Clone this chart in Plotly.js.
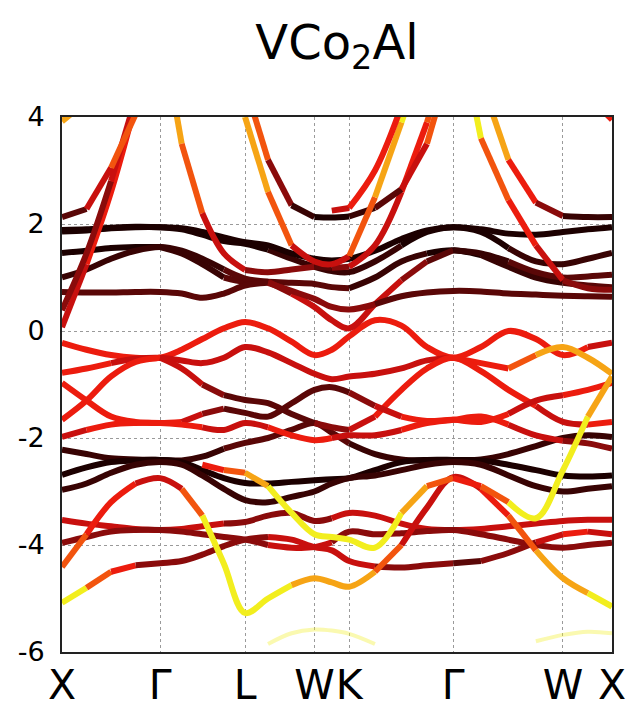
<!DOCTYPE html>
<html>
<head>
<meta charset="utf-8">
<script src="https://cdn.plot.ly/plotly-3.0.1.min.js"></script>
<style>html,body{margin:0;padding:0;background:#fff;}#chart{width:635px;height:711px;}</style>
</head>
<body>
<div id="chart"></div>
<script>
const n = null;
// k-path samples (cumulative distance, 2π/a units)
const kPath = [0, 0.25, 0.5, 0.75, 1.0, 1.22, 1.43, 1.65, 1.866, 2.1, 2.34, 2.573, 2.75, 2.927, 3.19, 3.46, 3.72, 3.988, 4.27, 4.55, 4.83, 5.106, 5.36, 5.606];
const tickK = [0, 1, 1.866, 2.573, 2.927, 3.988, 5.106, 5.606];
const tickLabels = ["X", "Γ", "L", "W", "K", "Γ", "W", "X"];
const yTicks = [-6, -4, -2, 0, 2, 4];

// conduction bands (energy, eV) and weights (0 = dark, 1 = yellow)
const c1E = [3.92, 4.35, 5.2, n, n, n, n, n, n, n, n, n, n, n, n, n, n, n, n, n, n, n, n, n];
const c1W = [0.85, 0.9, 0.95, n, n, n, n, n, n, n, n, n, n, n, n, n, n, n, n, n, n, n, n, n];
const c2E = [2.13, 2.28, 3.05, 4.05, 5.5, n, n, n, n, n, n, n, n, n, n, n, n, n, n, n, n, n, n, n];
const c2W = [0.1, 0.35, 0.65, 0.9, 1.0, n, n, n, n, n, n, n, n, n, n, n, n, n, n, n, n, n, n, n];
const c3E = [0.07, 1.25, 2.6, 4.25, 5.8, n, n, n, n, n, n, n, n, n, n, n, n, n, n, n, n, n, n, n];
const c3W = [0.55, 0.55, 0.6, 0.7, 0.8, n, n, n, n, n, n, n, n, n, n, n, n, n, n, n, n, n, n, n];
const c4E = [0.39, 1.45, 2.8, 4.35, 6.0, n, n, n, n, n, n, n, n, n, n, n, n, n, n, n, n, n, n, n];
const c4W = [0.35, 0.4, 0.45, 0.55, 0.6, n, n, n, n, n, n, n, n, n, n, n, n, n, n, n, n, n, n, n];
const c5E = [n, n, n, n, 5.8, 3.5, 2.2, 1.45, 1.14, 1.1, 1.15, 1.2, 1.18, 1.2, 1.6, 2.6, 3.9, 5.5, n, n, n, n, n, n];
const c5W = [n, n, n, n, 1.0, 0.8, 0.6, 0.5, 0.45, 0.4, 0.35, 0.3, 0.3, 0.4, 0.5, 0.6, 0.75, 0.85, n, n, n, n, n, n];
const c6E = [n, n, n, n, n, n, n, n, 4.6, 3.2, 2.35, 2.13, 2.12, 2.14, 2.3, 2.65, 3.5, 5.2, n, n, n, n, n, n];
const c6W = [n, n, n, n, n, n, n, n, 0.9, 0.5, 0.2, 0.05, 0.05, 0.05, 0.15, 0.4, 0.65, 0.85, n, n, n, n, n, n];
const c7E = [n, n, n, n, n, n, n, 6.2, 4.0, 2.6, 1.6, 1.3, 1.25, 1.4, 2.5, 3.9, 5.3, n, n, n, n, n, n, n];
const c7W = [n, n, n, n, n, n, n, 1.0, 1.0, 0.85, 0.6, 0.45, 0.45, 0.6, 0.85, 0.95, 1.0, n, n, n, n, n, n, n];
const c8E = [n, n, n, n, n, n, n, n, n, n, n, n, 2.25, 2.3, 3.0, 4.2, 5.5, n, n, n, n, n, n, n];
const c8W = [n, n, n, n, n, n, n, n, n, n, n, n, 0.5, 0.55, 0.6, 0.7, 0.8, n, n, n, n, n, n, n];
const c9E = [n, n, n, n, n, n, n, n, n, n, n, n, n, n, n, n, n, 6.2, 3.6, 2.45, 1.6, 0.95, 0.8, 0.77];
const c9W = [n, n, n, n, n, n, n, n, n, n, n, n, n, n, n, n, n, 1.0, 0.9, 0.7, 0.5, 0.4, 0.35, 0.35];
const c10E = [n, n, n, n, n, n, n, n, n, n, n, n, n, n, n, n, n, 7.0, 4.7, 3.2, 2.4, 2.15, 2.13, 2.13];
const c10W = [n, n, n, n, n, n, n, n, n, n, n, n, n, n, n, n, n, 1.0, 0.95, 0.8, 0.5, 0.15, 0.1, 0.1];
const c11E = [n, n, n, n, n, n, n, n, n, n, n, n, n, n, n, n, n, n, n, n, n, n, 4.4, 3.95];
const c11W = [n, n, n, n, n, n, n, n, n, n, n, n, n, n, n, n, n, n, n, n, n, n, 0.6, 0.6];

// flat d bands
const d1E = [1.89, 1.9, 1.93, 1.95, 1.94, 1.9, 1.8, 1.68, 1.63, 1.52, 1.35, 1.2, 1.12, 1.1, 1.3, 1.6, 1.85, 1.94, 1.85, 1.55, 1.3, 1.25, 1.35, 1.46];
const d1W = [0.05, 0.05, 0.05, 0.05, 0.05, 0.05, 0.05, 0.05, 0.05, 0.05, 0.1, 0.1, 0.1, 0.1, 0.1, 0.05, 0.05, 0.05, 0.05, 0.05, 0.1, 0.1, 0.1, 0.1];
const d1bE = [1.86, 1.88, 1.92, 1.94, 1.94, 1.92, 1.85, 1.75, 1.66, 1.6, 1.45, 1.35, 1.32, 1.35, 1.5, 1.72, 1.88, 1.94, 1.9, 1.82, 1.8, 1.85, 1.9, 1.94];
const d1bW = [0.02, 0.02, 0.02, 0.02, 0.02, 0.02, 0.02, 0.02, 0.02, 0.05, 0.05, 0.05, 0.05, 0.05, 0.05, 0.02, 0.02, 0.02, 0.02, 0.02, 0.02, 0.02, 0.02, 0.02];
const d2E = [1.46, 1.5, 1.55, 1.57, 1.57, 1.45, 1.25, 1.0, 0.92, 0.92, 0.9, 0.88, 0.82, 0.8, 1.0, 1.3, 1.45, 1.51, 1.42, 1.2, 1.0, 0.9, 0.85, 0.82];
const d2W = [0.05, 0.05, 0.05, 0.05, 0.05, 0.1, 0.15, 0.2, 0.2, 0.2, 0.2, 0.2, 0.2, 0.2, 0.15, 0.1, 0.05, 0.05, 0.05, 0.1, 0.15, 0.2, 0.2, 0.2];
const d3E = [1.0, 1.15, 1.35, 1.5, 1.57, 1.5, 1.35, 1.15, 0.98, 0.92, 0.7, 0.45, 0.2, 0.05, 0.5, 0.95, 1.3, 1.51, 1.45, 1.3, 1.1, 1.0, 1.02, 1.05];
const d3W = [0.1, 0.1, 0.1, 0.1, 0.1, 0.1, 0.15, 0.2, 0.2, 0.3, 0.45, 0.5, 0.55, 0.55, 0.5, 0.4, 0.25, 0.15, 0.15, 0.2, 0.2, 0.2, 0.2, 0.2];
const d4E = [0.73, 0.72, 0.72, 0.73, 0.73, 0.7, 0.62, 0.7, 0.85, 0.9, 0.75, 0.6, 0.45, 0.4, 0.5, 0.65, 0.72, 0.75, 0.74, 0.7, 0.68, 0.66, 0.65, 0.64];
const d4W = [0.3, 0.3, 0.3, 0.3, 0.3, 0.3, 0.3, 0.3, 0.3, 0.3, 0.35, 0.35, 0.35, 0.35, 0.3, 0.3, 0.3, 0.3, 0.3, 0.3, 0.3, 0.3, 0.3, 0.3];

// valence bands
const v1E = [-0.22, -0.35, -0.45, -0.5, -0.5, -0.35, -0.15, 0.05, 0.17, 0.05, -0.2, -0.45, -0.35, -0.1, 0.2, 0.1, -0.3, -0.5, -0.3, 0.0, -0.15, -0.45, -0.3, -0.22];
const v1W = [0.6, 0.6, 0.6, 0.6, 0.6, 0.6, 0.6, 0.65, 0.65, 0.65, 0.6, 0.6, 0.6, 0.6, 0.65, 0.65, 0.6, 0.6, 0.6, 0.65, 0.65, 0.6, 0.55, 0.55];
const v2E = [-0.78, -0.7, -0.6, -0.52, -0.5, -0.55, -0.6, -0.5, -0.3, -0.4, -0.6, -0.8, -0.9, -0.85, -0.8, -0.7, -0.55, -0.5, -0.6, -0.7, -0.45, -0.3, -0.5, -0.8];
const v2W = [0.75, 0.6, 0.55, 0.55, 0.55, 0.55, 0.55, 0.55, 0.55, 0.5, 0.5, 0.45, 0.45, 0.5, 0.55, 0.55, 0.55, 0.55, 0.6, 0.7, 0.8, 0.85, 0.9, 0.9];
const v3E = [-1.66, -1.3, -0.85, -0.58, -0.5, -0.7, -1.0, -1.2, -1.29, -1.35, -1.55, -1.72, -1.8, -1.85, -1.6, -1.1, -0.7, -0.5, -0.75, -1.1, -1.4, -1.7, -1.75, -1.7];
const v3W = [0.6, 0.6, 0.6, 0.6, 0.6, 0.5, 0.4, 0.3, 0.25, 0.25, 0.3, 0.3, 0.35, 0.45, 0.55, 0.6, 0.6, 0.6, 0.6, 0.6, 0.55, 0.5, 0.55, 0.6];
const v4E = [-0.97, -1.3, -1.6, -1.7, -1.72, -1.7, -1.55, -1.45, -1.53, -1.6, -1.35, -1.1, -1.05, -1.15, -1.4, -1.6, -1.68, -1.66, -1.7, -1.55, -1.3, -1.2, -1.1, -0.97];
const v4W = [0.6, 0.6, 0.6, 0.6, 0.6, 0.6, 0.4, 0.3, 0.25, 0.25, 0.25, 0.2, 0.2, 0.25, 0.4, 0.55, 0.6, 0.6, 0.6, 0.55, 0.5, 0.55, 0.6, 0.65];
const v5E = [-1.98, -1.85, -1.75, -1.72, -1.72, -1.75, -1.8, -1.85, -1.72, -1.8, -1.95, -2.04, -2.0, -1.95, -1.95, -1.85, -1.72, -1.66, -1.6, -1.75, -1.95, -2.05, -2.1, -2.2];
const v5W = [0.5, 0.55, 0.6, 0.6, 0.6, 0.6, 0.55, 0.5, 0.55, 0.55, 0.6, 0.6, 0.55, 0.5, 0.5, 0.55, 0.6, 0.6, 0.6, 0.55, 0.5, 0.45, 0.4, 0.35];
const v6E = [-2.22, -2.3, -2.38, -2.4, -2.41, -2.42, -2.35, -2.2, -2.09, -2.0, -1.85, -1.72, -1.9, -2.1, -2.3, -2.4, -2.42, -2.41, -2.4, -2.3, -2.15, -2.0, -1.95, -1.98];
const v6W = [0.12, 0.12, 0.12, 0.12, 0.12, 0.12, 0.15, 0.2, 0.2, 0.2, 0.2, 0.2, 0.2, 0.2, 0.15, 0.12, 0.12, 0.12, 0.12, 0.12, 0.15, 0.15, 0.15, 0.15];
const v7E = [-2.69, -2.55, -2.45, -2.42, -2.41, -2.45, -2.6, -2.75, -2.84, -2.85, -2.82, -2.79, -2.77, -2.75, -2.6, -2.45, -2.41, -2.41, -2.42, -2.5, -2.6, -2.7, -2.72, -2.7];
const v7W = [0.02, 0.02, 0.02, 0.02, 0.02, 0.02, 0.02, 0.05, 0.05, 0.05, 0.05, 0.05, 0.05, 0.05, 0.02, 0.02, 0.02, 0.02, 0.02, 0.02, 0.02, 0.02, 0.02, 0.02];
const v8E = [-2.97, -2.85, -2.65, -2.5, -2.45, -2.5, -2.7, -2.95, -3.16, -3.2, -3.1, -3.0, -2.85, -2.75, -2.7, -2.6, -2.5, -2.45, -2.5, -2.7, -2.9, -3.0, -2.95, -2.9];
const v8W = [0.08, 0.08, 0.08, 0.08, 0.08, 0.1, 0.12, 0.15, 0.15, 0.15, 0.15, 0.15, 0.15, 0.12, 0.1, 0.08, 0.08, 0.08, 0.08, 0.08, 0.08, 0.08, 0.08, 0.08];
const v10E = [-3.53, -3.6, -3.65, -3.7, -3.72, -3.7, -3.65, -3.6, -3.57, -3.45, -3.4, -3.55, -3.5, -3.4, -3.45, -3.6, -3.7, -3.72, -3.7, -3.65, -3.6, -3.55, -3.53, -3.53];
const v10W = [0.55, 0.55, 0.55, 0.55, 0.55, 0.55, 0.5, 0.4, 0.35, 0.35, 0.35, 0.4, 0.45, 0.5, 0.55, 0.55, 0.55, 0.55, 0.55, 0.55, 0.55, 0.55, 0.55, 0.55];
const v11E = [-3.96, -3.85, -3.75, -3.72, -3.72, -3.75, -3.8, -3.85, -3.9, -4.0, -4.05, -4.04, -3.95, -3.75, -3.8, -3.78, -3.74, -3.72, -3.8, -3.9, -4.0, -4.05, -4.0, -3.96];
const v11W = [0.4, 0.4, 0.35, 0.35, 0.35, 0.35, 0.35, 0.35, 0.4, 0.45, 0.45, 0.45, 0.45, 0.4, 0.35, 0.35, 0.35, 0.35, 0.35, 0.35, 0.35, 0.35, 0.35, 0.35];
const v12E = [-5.08, -4.8, -4.5, -4.38, -4.34, -4.3, -4.18, -4.02, -3.9, -3.85, -3.9, -4.04, -4.1, -4.3, -4.4, -4.42, -4.38, -4.34, -4.3, -4.15, -3.95, -3.8, -3.75, -3.8];
const v12W = [1.0, 0.9, 0.7, 0.45, 0.35, 0.35, 0.35, 0.35, 0.4, 0.45, 0.5, 0.5, 0.5, 0.5, 0.45, 0.4, 0.35, 0.3, 0.3, 0.35, 0.5, 0.6, 0.55, 0.5];
const v9E = [-4.41, -3.8, -3.2, -2.85, -2.75, -2.95, -3.45, -4.35, -5.27, -5.0, -4.75, -4.62, -4.7, -4.78, -4.5, -4.0, -3.3, -2.73, -2.95, -3.45, -4.1, -4.62, -4.9, -5.15];
const v9W = [0.85, 0.7, 0.6, 0.55, 0.5, 0.6, 0.95, 1.0, 1.0, 1.0, 0.95, 0.9, 0.85, 0.85, 0.8, 0.6, 0.5, 0.5, 0.55, 0.7, 0.8, 0.85, 0.95, 1.0];
const v13E = [n, n, n, n, n, n, -2.5, -2.6, -2.65, -2.9, -3.4, -3.8, -3.85, -3.9, -4.05, -3.4, -2.9, -2.75, -2.9, -3.2, -3.5, -2.6, -1.6, -0.85];
const v13W = [n, n, n, n, n, n, 0.5, 0.7, 0.85, 0.9, 1.0, 1.0, 1.0, 1.0, 1.0, 1.0, 0.8, 0.6, 0.55, 0.9, 1.0, 0.95, 0.95, 0.9];
// faint deep bands
const f1E = [n, n, n, n, n, n, n, n, n, -5.85, -5.65, -5.58, -5.6, -5.66, -5.85, n, n, n, n, n, n, n, n, n];
const f2E = [n, n, n, n, n, n, n, n, n, n, n, n, n, n, n, n, n, n, n, n, -5.8, -5.68, -5.62, -5.65];

const bandList = [
  [v6E, v6W], [v7E, v7W], [v8E, v8W],
  [v1E, v1W], [v2E, v2W], [v3E, v3W], [v4E, v4W], [v5E, v5W],
  [v10E, v10W], [v11E, v11W], [v12E, v12W], [v9E, v9W], [v13E, v13W],
  [d1E, d1W], [d1bE, d1bW], [d2E, d2W], [d3E, d3W], [d4E, d4W],
  [c3E, c3W], [c4E, c4W], [c2E, c2W], [c1E, c1W], [c5E, c5W], [c6E, c6W], [c7E, c7W], [c8E, c8W], [c9E, c9W], [c10E, c10W], [c11E, c11W]
];

const stops = [[0, [28, 0, 0]], [0.2, [72, 5, 5]], [0.35, [125, 10, 10]], [0.5, [200, 16, 14]], [0.62, [236, 26, 14]], [0.75, [242, 84, 14]], [0.86, [246, 155, 20]], [1.0, [242, 238, 30]]];
function colorFor(w) {
  w = Math.max(0, Math.min(1, w));
  for (let i = 1; i < stops.length; i++) {
    if (w <= stops[i][0]) {
      const a = stops[i - 1], b = stops[i];
      const t = (w - a[0]) / (b[0] - a[0]);
      const c = a[1].map((v, j) => Math.round(v + t * (b[1][j] - v)));
      return 'rgb(' + c.join(',') + ')';
    }
  }
  return 'rgb(242,238,30)';
}

const traces = [];
function addBand(E, W, opts) {
  let runStart = -1, runQ = null;
  const flush = (s, e, q) => {
    if (s < 0 || e <= s) return;
    traces.push({
      type: 'scatter', mode: 'lines', hoverinfo: 'skip', showlegend: false,
      x: kPath.slice(s, e + 1), y: E.slice(s, e + 1),
      line: {color: colorFor(q), width: opts.width, shape: 'spline', smoothing: 1},
      opacity: opts.opacity
    });
  };
  for (let i = 0; i < kPath.length - 1; i++) {
    if (E[i] === null || E[i + 1] === null) {
      if (runStart >= 0) flush(runStart, i, runQ);
      runStart = -1; runQ = null; continue;
    }
    const q = Math.round(((W[i] + W[i + 1]) / 2) * 8) / 8;
    if (runStart < 0) { runStart = i; runQ = q; }
    else if (q !== runQ) { flush(runStart, i, runQ); runStart = i; runQ = q; }
  }
  if (runStart >= 0) flush(runStart, kPath.length - 1, runQ);
}

const faintW = kPath.map(() => 1.0);
addBand(f1E, faintW, {width: 4, opacity: 0.35});
addBand(f2E, faintW, {width: 4, opacity: 0.35});
bandList.forEach(b => addBand(b[0], b[1], {width: 6, opacity: 1}));

const layout = {
  width: 635, height: 711,
  margin: {l: 62, r: 23, t: 117, b: 59},
  paper_bgcolor: 'white', plot_bgcolor: 'white',
  showlegend: false,
  title: {text: 'VCo<sub>2</sub>Al', x: 0.5, xanchor: 'center', xref: 'paper', y: 1 - 42 / 711, yanchor: 'middle', yref: 'container',
          font: {family: 'DejaVu Sans', size: 48, color: 'black'}},
  xaxis: {range: [0, 5.606], tickmode: 'array', tickvals: tickK, ticktext: tickLabels, tickangle: 0,
          tickfont: {family: 'DejaVu Sans', size: 41, color: 'black'},
          showgrid: true, gridcolor: '#9a9a9a', griddash: 'dot', gridwidth: 1,
          showline: true, mirror: true, linecolor: '#222', linewidth: 2,
          ticks: '', zeroline: false, fixedrange: true, ticklabelstandoff: -4},
  yaxis: {range: [-6, 4], tickmode: 'array', tickvals: yTicks, ticktext: yTicks.map(String),
          tickfont: {family: 'DejaVu Sans', size: 27, color: 'black'},
          showgrid: true, gridcolor: '#9a9a9a', griddash: 'dot', gridwidth: 1,
          showline: true, mirror: true, linecolor: '#222', linewidth: 2,
          ticks: '', zeroline: false, fixedrange: true, ticklabelstandoff: 10}
};

Plotly.newPlot('chart', traces, layout, {staticPlot: true, displayModeBar: false});
</script>
</body>
</html>
